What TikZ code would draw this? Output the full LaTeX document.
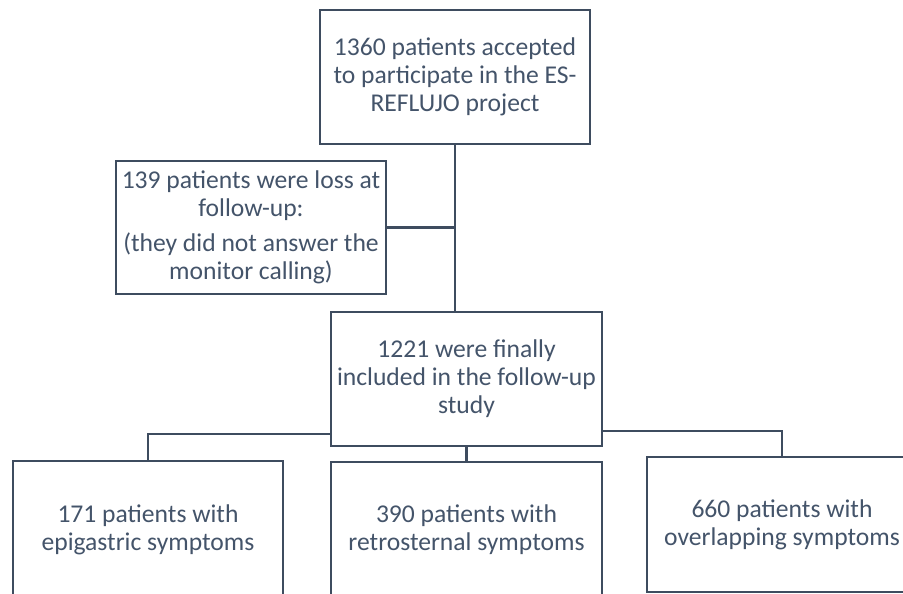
\documentclass[tikz,border=0pt]{standalone}
\usepackage{fontspec}
\setmainfont{Carlito}
\definecolor{ink}{HTML}{44546A}
\definecolor{edge}{HTML}{3E4C5F}
\begin{document}
\begin{tikzpicture}[x=1pt,y=-1pt,
  box/.style={draw=edge, line width=2.2pt, fill=white, minimum width=270pt,
    inner sep=0pt, align=center, text=ink,
    font=\fontsize{25.6}{28}\selectfont},
  link/.style={draw=edge, line width=2.2pt}]
\clip (0,0) rectangle (903,594);
\fill[white] (0,0) rectangle (903,594);

\node[box, minimum height=134pt] (top) at (455,77)
  {1360 patients accepted\\to participate in the ES-\\REFLUJO project};
\node[box, minimum height=133pt] (lost) at (251,227.5)
  {139 patients were loss at\\follow-up:\\[7pt](they did not answer the\\monitor calling)};
\node[box, minimum width=271pt, minimum height=134pt] (incl) at (466.5,379)
  {1221 were finally\\included in the follow-up\\study};
\node[box, minimum height=138pt] (epi) at (148,530)
  {171 patients with\\epigastric symptoms};
\node[box, minimum width=271pt, minimum height=136pt] (retro) at (466.5,530)
  {390 patients with\\retrosternal symptoms};
\node[box, minimum height=135pt] (over) at (782,524.5)
  {660 patients with\\overlapping symptoms};

\coordinate (lj) at ([yshift=13pt]incl.south west);
\coordinate (rj) at ([yshift=16pt]incl.south east);

\draw[link] (top.south) -- (top.south |- incl.north);
\draw[link] (lost.east) -- (lost.east -| top.south);
\draw[link] (lj) -| (epi.north);
\draw[link] (incl.south) -- (retro.north);
\draw[link] (rj) -| (over.north);
\end{tikzpicture}
\end{document}
